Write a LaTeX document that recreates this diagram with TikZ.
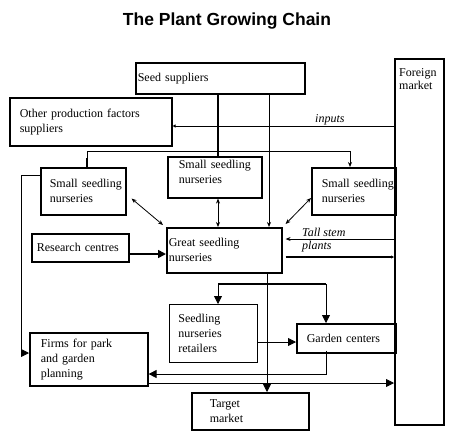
\documentclass[tikz,border=0pt]{standalone}
\usepackage{fontspec}
\setmainfont{Liberation Serif}
\newfontfamily\headfont{Liberation Sans}
\usetikzlibrary{arrows.meta}
\begin{document}
\begin{tikzpicture}[x=1pt, y=-1pt,
        box/.style = {draw, line width=1.6pt, anchor=north west, align=left, inner sep=0pt,
            font=\fontsize{12}{15}\selectfont},
        thinline/.style = {line width=0.8pt},
        thickline/.style = {line width=1.6pt},
        big/.style = {-{Triangle[length=8pt, width=8pt]}},
        small/.style = {-{Stealth[length=5pt, width=4pt]}},
        tiny/.style = {-{Triangle[length=3pt, width=3pt]}},
        both/.style = {{Stealth[length=5pt, width=4pt]}-{Stealth[length=5pt, width=4pt]}},
        lbl/.style = {anchor=west, inner sep=0pt, font=\fontsize{12}{15}\selectfont\itshape}]
    \useasboundingbox (0,0) rectangle (454,440);
    \node (title) at (227,21) {\headfont\bfseries\fontsize{17.5}{20}\selectfont The Plant Growing Chain};
    \draw
        (135,62) node (seed) [box, minimum width=169pt, minimum height=31pt, text width=165pt] {Seed suppliers}
        (9,97) node (other) [box, minimum width=162pt, minimum height=48pt, text width=142pt] {Other production factors\\suppliers}
        (394,58) node (foreign) [box, minimum width=49pt, minimum height=366pt] {}
        (40,167) node (smallL) [box, minimum width=85pt, minimum height=47pt, text width=67pt] {Small~seedling\\nurseries}
        (167,156) node (smallC) [box, minimum width=94pt, minimum height=41pt, text width=72pt, text depth=25pt] {Small~seedling\\nurseries}
        (311,167) node (smallR) [box, minimum width=84pt, minimum height=47pt, text width=64pt] {Small~seedling\\nurseries}
        (166,227) node (great) [box, minimum width=115pt, minimum height=45pt, text width=111pt] {Great seedling\\nurseries}
        (31,233) node (research) [box, minimum width=97pt, minimum height=28pt, text width=87pt] {Research centres}
        (169,304) node (retail) [box, line width=0.8pt, minimum width=88pt, minimum height=58pt, text width=70pt] {Seedling\\nurseries\\retailers}
        (296,323) node (garden) [box, minimum width=99pt, minimum height=29pt, text width=79pt] {Garden~centers}
        (29,332) node (firms) [box, minimum width=118pt, minimum height=53pt, text width=96pt] {Firms for park\\and garden\\planning}
        (191,392) node (target) [box, minimum width=117pt, minimum height=37pt, text width=81pt] {Target\\market}
    ;
    \node (foreigntext) [anchor=north west, align=left, inner sep=0pt, font=\fontsize{12}{13}\selectfont]
        at (399,68) {Foreign\\market};

    % from the suppliers
    \draw[thickline] (seed.south -| 218,0) -- (smallC.north -| 218,0);
    \draw[thinline, small] (seed.south -| 269,0) -- (great.north -| 269,0);
    \draw[thinline, small] (smallL.north -| 87,0) -- (87,151) -| (smallR.north -| 350,0);
    \draw[thickline] (smallL.north -| 87,0) -- (87,158);
    \draw[thinline, tiny] (foreign.west |- 0,126) -- (other.east |- 0,126);
    \node (inputs) [lbl] at (315,120) {inputs};

    % around the great nurseries
    \draw[thinline, big] (smallL.west |- 0,175) -- (21,175) |- (firms.west |- 0,353);
    \draw[thinline, both] ([shift={(5,-17)}]smallL.south east) -- ([shift={(-3,-2)}]great.north west);
    \draw[thinline, both] (smallC.south -| 218,0) -- (great.north -| 218,0);
    \draw[thinline, both] (smallR.west |- 0,198) -- ([shift={(3,-3)}]great.north east);
    \draw[thickline, big] (research.east |- 0,254) -- (great.west |- 0,254);
    \draw[thinline, small] (foreign.west |- 0,239) -- ([xshift=3]great.east |- 0,239);
    \draw[thickline, tiny] ([xshift=3]great.east |- 0,257) -- (foreign.west |- 0,257);
    \node (tallstem) [lbl] at (302,232) {Tall stem};
    \node (plants) [lbl] at (302,247) {plants};

    % towards the market
    \draw[thinline, big] (great.south -| 267,0) -- (target.north -| 267,0);
    \coordinate (forkL) at (218,284);
    \coordinate (forkR) at (326,284);
    \draw[thickline] (forkL) -- (forkR);
    \draw[thinline, big] (forkL) -- (retail.north -| forkL);
    \draw[thinline, big] (forkR) -- (garden.north -| forkR);
    \draw[thinline, big] (retail.east |- 0,342) -- (garden.west |- 0,342);
    \draw[thinline, big] ([yshift=3]garden.south -| forkR) |- (firms.east |- 0,374);
    \draw[thinline, big] (firms.east |- 0,383) -- (foreign.west |- 0,383);
\end{tikzpicture}
\end{document}
